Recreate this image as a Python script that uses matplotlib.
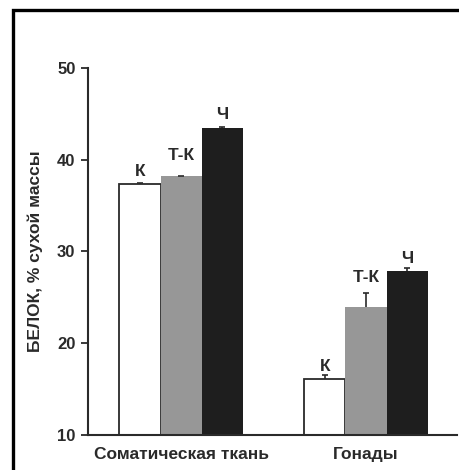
import numpy as np
import matplotlib.pyplot as plt
from matplotlib.patches import Rectangle

plt.rcParams['font.family'] = ['Liberation Sans', 'DejaVu Sans']
plt.rcParams['font.weight'] = 'bold'

# --- Data ---
groups = ["Соматическая ткань", "Гонады"]
series = ["К", "Т-К", "Ч"]
values = {
    "К": [37.4, 16.1],
    "Т-К": [38.2, 24.0],
    "Ч": [43.5, 27.9],
}
errors = {
    "К": [0.1, 0.4],
    "Т-К": [0.05, 1.5],
    "Ч": [0.1, 0.3],
}
yticks = [10, 20, 30, 40, 50]

# --- Styling ---
colors = {"К": "white", "Т-К": "#979797", "Ч": "#1e1e1e"}
label_pad = {"К": [5, 3], "Т-К": [11.5, 8], "Ч": [5.4, 3.6]}  # points above error bar
ink = "#2a2a2a"

fig = plt.figure(figsize=(4.6, 4.7), dpi=100)
ax = fig.add_axes([0.1913, 0.0745, 0.8022, 0.7808])

x = np.arange(len(groups))
w = 0.222
for i, s in enumerate(series):
    xs = x + (i - 1) * w
    ax.bar(xs, values[s], bottom=0, width=w, color=colors[s],
           edgecolor=ink, linewidth=1.3 if s == "К" else 0, zorder=2)
    eb = ax.errorbar(xs, values[s], yerr=[[0] * len(groups), errors[s]], fmt="none",
                     ecolor=ink, elinewidth=1.2, capsize=2.5, capthick=1.2, zorder=3)
    eb[1][0].set_visible(False)  # only the upper cap
    for j in range(len(groups)):
        ax.annotate(s, (xs[j], values[s][j] + errors[s][j]), xytext=(0, label_pad[s][j]),
                    textcoords="offset points", ha="center", va="baseline",
                    fontsize=12.5, fontweight="bold", color=ink)

ax.set_ylim(10, 50)
ax.set_xlim(-0.503, 1.492)
ax.set_yticks(yticks)
ax.set_xticks(x)
ax.set_xticklabels(groups)
ax.tick_params(axis="x", length=0, pad=9, labelsize=12.5, colors=ink)
ax.tick_params(axis="y", length=5, width=1.3, pad=4, labelsize=12, colors=ink)
for lab in ax.get_xticklabels() + ax.get_yticklabels():
    lab.set_fontweight("bold")
ax.set_ylabel("БЕЛОК, % сухой массы", fontsize=12.5, fontweight="bold", color=ink, labelpad=10)
for side in ["top", "right"]:
    ax.spines[side].set_visible(False)
for side in ["left", "bottom"]:
    ax.spines[side].set_linewidth(1.5)
    ax.spines[side].set_color(ink)

# frame around the figure
fig.patches.append(Rectangle((13 / 460, -0.05), 1.1, 1 - 9.5 / 470 + 0.05,
                             transform=fig.transFigure, fill=False,
                             edgecolor="black", linewidth=2.4))

fig.savefig("out.png", dpi=100)
